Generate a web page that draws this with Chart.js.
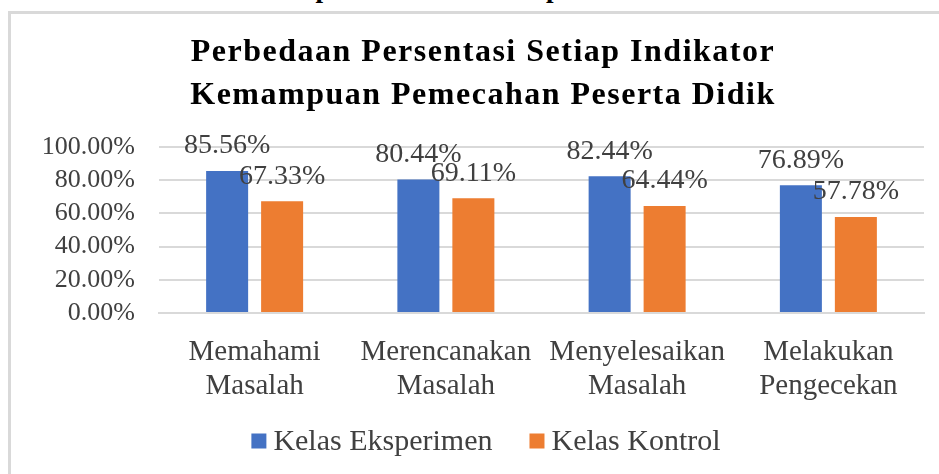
<!DOCTYPE html>
<html>
<head>
<meta charset="utf-8">
<script src="https://cdn.jsdelivr.net/npm/chart.js@4.4.0/dist/chart.umd.min.js"></script>
<style>
  body { margin: 0; background: #fff; width: 939px; height: 474px; overflow: hidden; position: relative; font-family: "Liberation Serif", serif; }
  #caption { position: absolute; left: 0; top: 0; width: 939px; height: 7px; overflow: hidden; }
  #caption span { position: absolute; left: 2px; top: -27px; font-weight: bold; font-size: 27px; line-height: 30px; white-space: nowrap; }
  #frame { position: absolute; left: 8px; top: 11px; width: 940px; height: 470px; border-left: 3px solid #d9d9d9; border-top: 3px solid #d9d9d9; }
  #wrap { position: absolute; left: 11px; top: 14px; width: 928px; height: 460px; }
</style>
</head>
<body>
<div id="caption"><span>Perbedaan Persentasi Setiap Indikator Kemampuan Pemecahan Peserta Didik</span></div>
<div id="frame"></div>
<div id="wrap"><canvas id="chart"></canvas></div>
<script>
const categories = [
  ['Memahami', 'Masalah'],
  ['Merencanakan', 'Masalah'],
  ['Menyelesaikan', 'Masalah'],
  ['Melakukan', 'Pengecekan']
];
const eksperimen = [85.56, 80.44, 82.44, 76.89];
const kontrol = [67.33, 69.11, 64.44, 57.78];
const seriesNames = ['Kelas Eksperimen', 'Kelas Kontrol'];
const yTicks = [0, 20, 40, 60, 80, 100];
const titleLines = ['Perbedaan Persentasi Setiap Indikator', 'Kemampuan Pemecahan Peserta Didik'];

const textColor = '#404040';
Chart.defaults.font.family = '"Liberation Serif", "Times New Roman", serif';

// title drawn by hand so the wide letter spacing can be matched
const titlePlugin = {
  id: 'bigTitle',
  afterDraw(chart) {
    const ctx = chart.ctx;
    ctx.save();
    ctx.font = 'bold 32px "Liberation Serif", serif';
    ctx.letterSpacing = '1.5px';
    ctx.fillStyle = '#000';
    ctx.textAlign = 'center';
    ctx.textBaseline = 'middle';
    ctx.fillText(titleLines[0], 472, 39);
    ctx.fillText(titleLines[1], 472, 82);
    ctx.restore();
  }
};

// value labels above each bar
const valueLabels = {
  id: 'valueLabels',
  afterDatasetsDraw(chart) {
    const ctx = chart.ctx;
    ctx.save();
    ctx.font = '28px "Liberation Serif", serif';
    ctx.fillStyle = textColor;
    ctx.textAlign = 'center';
    ctx.textBaseline = 'middle';
    chart.data.datasets.forEach((ds, i) => {
      chart.getDatasetMeta(i).data.forEach((bar, j) => {
        ctx.fillText(ds.data[j].toFixed(2) + '%', bar.x, bar.y - 25);
      });
    });
    ctx.restore();
  }
};

// legend with Excel-like spacing
const legendPlugin = {
  id: 'excelLegend',
  afterDraw(chart) {
    const ctx = chart.ctx;
    ctx.save();
    ctx.font = '30px "Liberation Serif", serif';
    ctx.textBaseline = 'middle';
    const box = 15, gap = 7, itemGap = 37;
    const items = chart.data.datasets.map(ds => ({ label: ds.label, color: ds.backgroundColor, w: ctx.measureText(ds.label).width }));
    let total = 0;
    items.forEach((it, i) => { total += box + gap + it.w + (i ? itemGap : 0); });
    let x = 475 - total / 2;
    const y = 427;
    items.forEach((it, i) => {
      if (i) x += itemGap;
      ctx.fillStyle = it.color;
      ctx.fillRect(x, y - box / 2, box, box);
      x += box + gap;
      ctx.fillStyle = textColor;
      ctx.fillText(it.label, x, y + 1);
      x += it.w;
    });
    ctx.restore();
  }
};

new Chart(document.getElementById('chart'), {
  type: 'bar',
  data: {
    labels: categories,
    datasets: [
      { label: seriesNames[0], data: eksperimen, backgroundColor: '#4472C4' },
      { label: seriesNames[1], data: kontrol, backgroundColor: '#ED7D31' }
    ]
  },
  options: {
    responsive: true,
    maintainAspectRatio: false,
    animation: false,
    devicePixelRatio: 1,
    categoryPercentage: 0.575,
    barPercentage: 0.764,
    layout: { padding: { left: 0, right: 15, top: 133, bottom: 59 } },
    plugins: {
      legend: { display: false },
      title: { display: false },
      tooltip: { enabled: false }
    },
    scales: {
      x: {
        grid: { display: false, drawTicks: false },
        border: { color: '#d9d9d9', width: 2 },
        ticks: {
          color: textColor,
          font: { size: 29, lineHeight: 1.17 },
          padding: 22,
          maxRotation: 0,
          autoSkip: false
        },
        afterFit(scale) { scale.height = 102; }
      },
      y: {
        min: 0,
        max: 100,
        afterBuildTicks(scale) { scale.ticks = yTicks.map(v => ({ value: v })); },
        grid: { color: '#d9d9d9', lineWidth: 2, drawTicks: false },
        border: { display: false },
        ticks: {
          color: textColor,
          font: { size: 26 },
          padding: 24,
          autoSkip: false,
          callback: v => v.toFixed(2) + '%'
        },
        afterFit(scale) { scale.width = 148; }
      }
    }
  },
  plugins: [titlePlugin, valueLabels, legendPlugin]
});
</script>
</body>
</html>
